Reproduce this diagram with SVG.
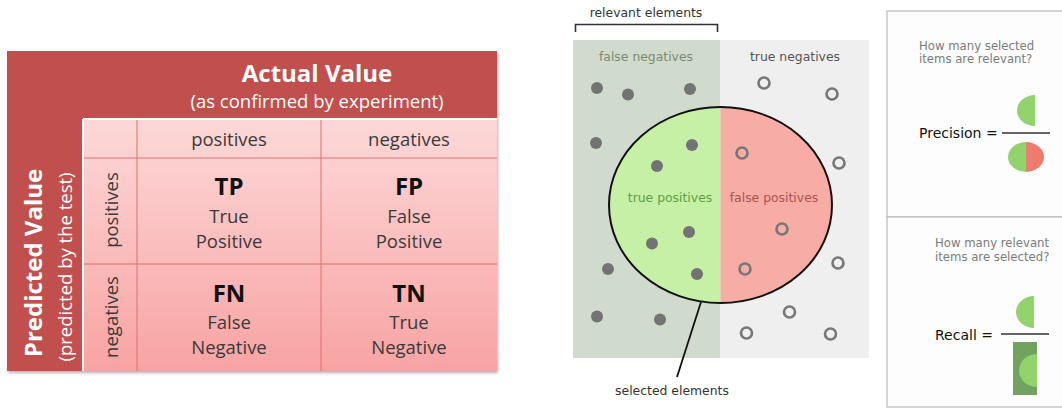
<svg xmlns="http://www.w3.org/2000/svg" width="1062" height="408" viewBox="0 0 1062 408">
  <defs>
    <linearGradient id="pinkFill" x1="0" y1="119" x2="0" y2="371" gradientUnits="userSpaceOnUse">
      <stop offset="0" stop-color="#fdd8d8"/>
      <stop offset="1" stop-color="#f8a3a3"/>
    </linearGradient>
    <filter id="boxShadow" x="-5%" y="-5%" width="110%" height="115%">
      <feDropShadow dx="1" dy="2" stdDeviation="1.5" flood-color="#000" flood-opacity="0.3"/>
    </filter>
  </defs>
  <style>
    .cal { font-family: "Open Sans", "Liberation Sans", sans-serif; }
    .hdr { font-weight: bold; fill: #ffffff; font-size: 24px; }
    .sub { fill: #ffffff; font-size: 18.5px; }
    .lbl { fill: #3a3a3a; font-size: 18.5px; }
    .abbr { font-weight: bold; fill: #111111; font-size: 24px; }
    .grid { stroke: #d87270; stroke-width: 1; fill: none; }
    .dj { font-family: "DejaVu Sans", "Liberation Sans", sans-serif; }
    .dot { fill: #737373; }
    .ring { fill: none; stroke: #777777; stroke-width: 2.6; }
    .q { fill: #7b7b7b; font-size: 11.7px; }
    .eq { fill: #111111; font-size: 14px; }
    .panel { fill: #fdfdfd; stroke: #b9b9b9; stroke-width: 1.2; }
    .lg { fill: #92d36e; }
    .rd { fill: #ed7b70; }
  </style>

  <rect width="1062" height="408" fill="#ffffff"/>

  <!-- confusion matrix -->
  <g id="confusion-matrix" text-anchor="middle" class="cal">
    <rect x="7" y="51" width="490" height="320" fill="#c0504d" filter="url(#boxShadow)"/>
    <rect x="83" y="119" width="414" height="252" fill="url(#pinkFill)"/>
    <line x1="83" y1="119" x2="497" y2="119" stroke="#ffffff" stroke-width="2"/>
    <line x1="83" y1="119" x2="83" y2="371" stroke="#ffffff" stroke-width="2"/>
    <line class="grid" x1="137" y1="120" x2="137" y2="371"/>
    <line class="grid" x1="321" y1="120" x2="321" y2="371"/>
    <line class="grid" x1="84" y1="158" x2="497" y2="158"/>
    <line class="grid" x1="84" y1="264" x2="497" y2="264"/>

    <text class="hdr" x="317" y="82">Actual Value</text>
    <text class="sub" x="317" y="108">(as confirmed by experiment)</text>
    <text class="hdr" font-size="23.5" transform="translate(42 263) rotate(-90)">Predicted Value</text>
    <text class="sub" transform="translate(72 267) rotate(-90)">(predicted by the test)</text>

    <text class="lbl" x="229" y="146">positives</text>
    <text class="lbl" x="409" y="146">negatives</text>
    <text class="lbl" transform="translate(118 210) rotate(-90)">positives</text>
    <text class="lbl" transform="translate(118 317) rotate(-90)">negatives</text>
  </g>

  <g id="cell-tp" class="cal" text-anchor="middle">
    <text class="abbr" x="229" y="195">TP</text>
    <text class="lbl" x="229" y="223">True</text>
    <text class="lbl" x="229" y="248">Positive</text>
  </g>
  <g id="cell-fp" class="cal" text-anchor="middle">
    <text class="abbr" x="409" y="195">FP</text>
    <text class="lbl" x="409" y="223">False</text>
    <text class="lbl" x="409" y="248">Positive</text>
  </g>
  <g id="cell-fn" class="cal" text-anchor="middle">
    <text class="abbr" x="229" y="302">FN</text>
    <text class="lbl" x="229" y="329">False</text>
    <text class="lbl" x="229" y="354">Negative</text>
  </g>
  <g id="cell-tn" class="cal" text-anchor="middle">
    <text class="abbr" x="409" y="302">TN</text>
    <text class="lbl" x="409" y="329">True</text>
    <text class="lbl" x="409" y="354">Negative</text>
  </g>

  <!-- relevant / selected sets -->
  <g id="relevant-region" class="dj">
    <rect x="573" y="40" width="147" height="318" fill="#d1dbcd"/>
    <text x="646" y="17" text-anchor="middle" font-size="12.4" fill="#333333">relevant elements</text>
    <path d="M575.5 32 V24.5 H717.5 V32" fill="none" stroke="#333333" stroke-width="1.6"/>
    <text x="646" y="61" text-anchor="middle" font-size="12.4" fill="#7a8a76">false negatives</text>
  </g>
  <g id="irrelevant-region" class="dj">
    <rect x="720" y="40" width="149" height="318" fill="#efefef"/>
    <text x="795" y="61" text-anchor="middle" font-size="12.4" fill="#555555">true negatives</text>
  </g>

  <g id="selected-set" class="dj">
    <path d="M720.5 107 A111.5 98 0 0 0 720.5 303 Z" fill="#c6f0a5"/>
    <path d="M720.5 107 A111.5 98 0 0 1 720.5 303 Z" fill="#f8aca6"/>
    <ellipse cx="720.5" cy="205" rx="111.5" ry="98" fill="none" stroke="#111111" stroke-width="2"/>
    <text x="670" y="202" text-anchor="middle" font-size="12.4" fill="#5e9e44">true positives</text>
    <text x="774" y="202" text-anchor="middle" font-size="12.4" fill="#a8554f">false positives</text>
  </g>

  <g id="relevant-items">
    <circle class="dot" cx="597" cy="88" r="6"/>
    <circle class="dot" cx="628" cy="94.5" r="6"/>
    <circle class="dot" cx="690" cy="89" r="6"/>
    <circle class="dot" cx="596" cy="143" r="6"/>
    <circle class="dot" cx="692" cy="145" r="6"/>
    <circle class="dot" cx="657" cy="166" r="6"/>
    <circle class="dot" cx="689" cy="232" r="6"/>
    <circle class="dot" cx="652" cy="243.5" r="6"/>
    <circle class="dot" cx="608" cy="269" r="6"/>
    <circle class="dot" cx="697" cy="274" r="6"/>
    <circle class="dot" cx="597" cy="316.5" r="6"/>
    <circle class="dot" cx="660" cy="319.5" r="6"/>
  </g>
  <g id="irrelevant-items">
    <circle class="ring" cx="764" cy="83" r="5.5"/>
    <circle class="ring" cx="832" cy="94" r="5.5"/>
    <circle class="ring" cx="742" cy="153" r="5.5"/>
    <circle class="ring" cx="839" cy="163" r="5.5"/>
    <circle class="ring" cx="782" cy="229" r="5.5"/>
    <circle class="ring" cx="745" cy="269" r="5.5"/>
    <circle class="ring" cx="838" cy="263" r="5.5"/>
    <circle class="ring" cx="789.5" cy="312" r="5.5"/>
    <circle class="ring" cx="746.5" cy="333" r="5.5"/>
    <circle class="ring" cx="830.5" cy="334" r="5.5"/>
  </g>

  <g id="selected-label" class="dj">
    <text x="672" y="395" text-anchor="middle" font-size="12.4" fill="#333333">selected elements</text>
  </g>

  <g id="connectors">
    <line x1="701" y1="302" x2="677" y2="377" stroke="#111111" stroke-width="1.8"/>
  </g>

  <!-- precision / recall panels -->
  <g id="precision-panel" class="dj">
    <rect class="panel" x="887" y="11" width="180" height="206"/>
    <text class="q" x="919" y="50">How many selected</text>
    <text class="q" x="919" y="63">items are relevant?</text>
    <text class="eq" x="919" y="138">Precision =</text>
    <line x1="1002" y1="133" x2="1050" y2="133" stroke="#333333" stroke-width="1.4"/>
    <path class="lg" d="M1035 95 A18 15.5 0 0 0 1035 126 Z"/>
    <path class="lg" d="M1026 142 A18 15 0 0 0 1026 172 Z"/>
    <path class="rd" d="M1026 142 A18 15 0 0 1 1026 172 Z"/>
  </g>

  <g id="recall-panel" class="dj">
    <rect class="panel" x="887" y="217" width="180" height="190"/>
    <text class="q" x="935" y="247">How many relevant</text>
    <text class="q" x="935" y="261">items are selected?</text>
    <text class="eq" x="935" y="340">Recall =</text>
    <line x1="1001" y1="334" x2="1049" y2="334" stroke="#333333" stroke-width="1.4"/>
    <path class="lg" d="M1034 296 A18 16 0 0 0 1034 328 Z"/>
    <rect x="1013" y="342" width="24" height="53" fill="#72a35e"/>
    <path class="lg" d="M1037 354 A18 16.5 0 0 0 1037 387 Z"/>
  </g>
</svg>
